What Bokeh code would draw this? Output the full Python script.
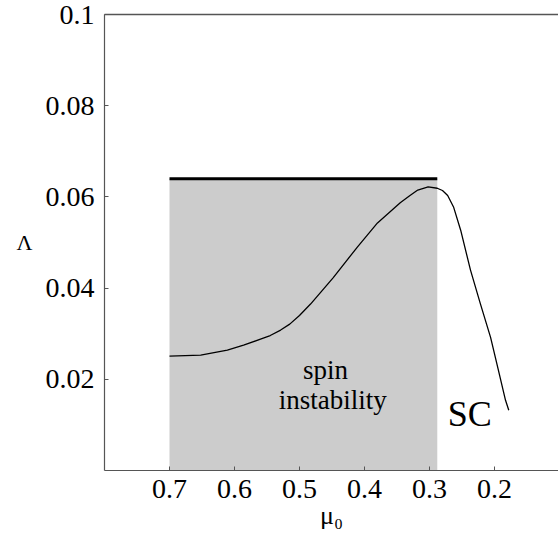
from bokeh.plotting import figure
from bokeh.models import Range1d, LinearAxis, FixedTicker, CustomJSTickFormatter, Label
from bokeh.embed import file_html
from bokeh.resources import INLINE

# data
mu0 = [0.700, 0.652, 0.611, 0.586, 0.560, 0.545, 0.529, 0.515, 0.500, 0.483, 0.448, 0.411, 0.380,
       0.345, 0.330, 0.318, 0.302, 0.288, 0.280, 0.272, 0.263, 0.252, 0.237, 0.222, 0.206, 0.194,
       0.183, 0.178]
lam = [0.0251, 0.0253, 0.0264, 0.0275, 0.0288, 0.0296, 0.0308, 0.0321, 0.0340, 0.0365, 0.0423, 0.0490,
       0.0543, 0.0587, 0.0603, 0.0615, 0.0622, 0.0619, 0.0614, 0.0603, 0.0578, 0.0527, 0.0440, 0.0367,
       0.0292, 0.0220, 0.0154, 0.0132]
region_mu = [0.7, 0.288]
region_top = 0.064
x_ticks = [0.7, 0.6, 0.5, 0.4, 0.3, 0.2]
y_ticks = [0.02, 0.04, 0.06, 0.08, 0.1]

FONT = "'Liberation Serif', 'Times New Roman', serif"

p = figure(width=558, height=535, output_backend="svg", toolbar_location=None,
           x_range=Range1d(0.8, 0.1015), y_range=Range1d(0, 0.1),
           min_border_left=104, min_border_right=0, min_border_top=14, min_border_bottom=65)
p.outline_line_color = None
p.grid.visible = False
p.background_fill_color = "white"

p.quad(left=[region_mu[0]], right=[region_mu[1]], bottom=[0], top=[region_top],
       fill_color="#cccccc", line_color=None)
p.line(region_mu, [region_top, region_top], line_color="black", line_width=3)
p.line(mu0, lam, line_color="black", line_width=1.3, line_join="round")

fmt = CustomJSTickFormatter(code="return String(Math.round(tick*1000)/1000);")
for ax, ticks in ((p.xaxis[0], x_ticks), (p.yaxis[0], y_ticks)):
    ax.ticker = FixedTicker(ticks=ticks)
    ax.formatter = fmt
    ax.major_tick_in = 4
    ax.major_tick_out = 0
    ax.minor_tick_in = 0
    ax.minor_tick_out = 0
    ax.axis_line_color = "#555555"
    ax.axis_line_width = 1.2
    ax.major_tick_line_color = "#555555"
    ax.major_label_text_font = FONT
    ax.major_label_text_font_size = "28px"
    ax.major_label_text_color = "black"
    ax.axis_label_text_font = FONT
    ax.axis_label_text_font_style = "normal"
    ax.axis_label_text_color = "black"

p.xaxis.axis_label = "μ₀"
p.xaxis.axis_label_text_font_size = "26px"
p.xaxis.major_label_standoff = 9
p.xaxis.axis_label_standoff = 0
p.yaxis.axis_label = "Λ"
p.yaxis.axis_label_text_font_size = "22px"
p.yaxis.axis_label_orientation = "horizontal"
p.yaxis.major_label_standoff = 10
p.yaxis.axis_label_standoff = 10

top = LinearAxis(ticker=FixedTicker(ticks=[]), major_label_text_font_size="0px",
                 major_tick_in=0, major_tick_out=0, minor_tick_in=0, minor_tick_out=0,
                 axis_line_color="#555555", axis_line_width=1.5)
p.add_layout(top, "above")

p.add_layout(Label(x=0.46, y=0.0187, text="spin", text_align="center", text_font=FONT,
                   text_font_size="27px", text_color="black"))
p.add_layout(Label(x=0.449, y=0.0121, text="instability", text_align="center", text_font=FONT,
                   text_font_size="27px", text_color="black"))
p.add_layout(Label(x=0.272, y=0.0081, text="SC", text_align="left", text_font=FONT,
                   text_font_size="36px", text_color="black"))

open("out.html", "w").write(file_html(p, INLINE))
